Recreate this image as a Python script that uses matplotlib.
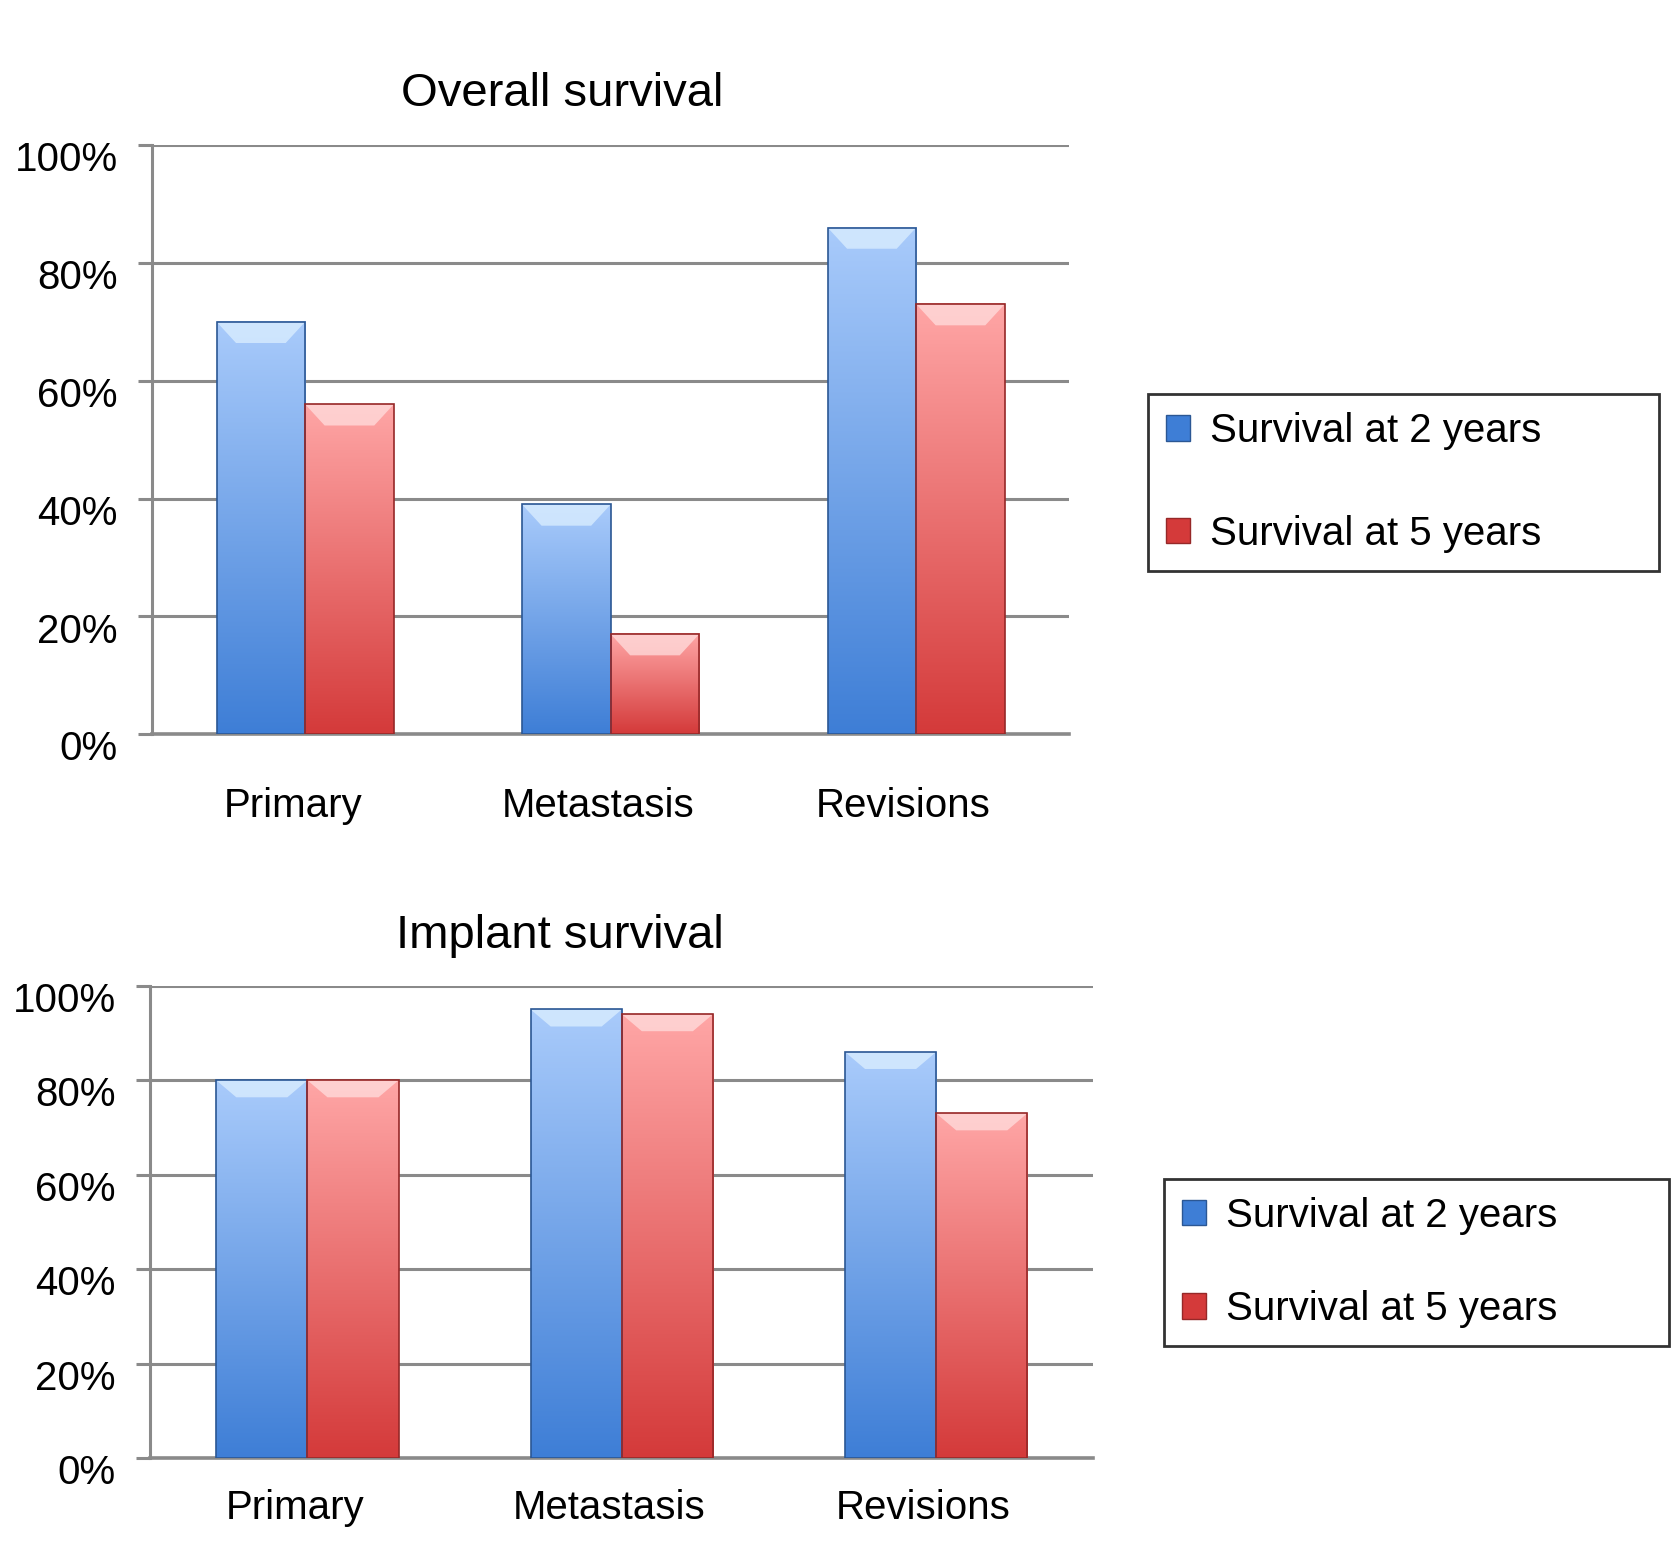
import numpy as np
import matplotlib
matplotlib.use('Agg')
import matplotlib.pyplot as plt
import matplotlib.transforms as mtrans
from matplotlib.colors import LinearSegmentedColormap
from matplotlib.patches import Polygon, Rectangle, Patch

plt.rcParams['font.family'] = ['Liberation Sans', 'DejaVu Sans']

##########################################################################
# data
##########################################################################
categories = ['Primary', 'Metastasis', 'Revisions']
series = ['Survival at 2 years', 'Survival at 5 years']

overall_2y = [70, 39, 86]
overall_5y = [56, 17, 73]

implant_2y = [80, 95, 86]
implant_5y = [80, 94, 73]

yticks = [0, 20, 40, 60, 80, 100]
ytick_labels = ['0%', '20%', '40%', '60%', '80%', '100%']

# styles
grey = '#8a8a8a'
blue = ('#a9cbfb', '#3e7ed6', '#2b5794', '#dcefff')   # top, bottom, edge, bevel
red = ('#ffa6a6', '#d43a3a', '#962828', '#ffdede')
width = 0.29


def gbar(ax, x0, h, col):
    cmap = LinearSegmentedColormap.from_list('g', [col[1], col[0]])
    grad = np.linspace(0, 1, 256).reshape(-1, 1)
    ax.imshow(grad, cmap=cmap, origin='lower', aspect='auto',
              extent=[x0, x0 + width, 0, h], zorder=3)
    d, e = 0.22 * width, 3.6
    ax.add_patch(Polygon([(x0, h), (x0 + width, h), (x0 + width - d, h - e), (x0 + d, h - e)],
                         closed=True, facecolor=col[3], edgecolor='none', alpha=0.75, zorder=4))
    ax.add_patch(Rectangle((x0, 0), width, h, facecolor='none', edgecolor=col[2], lw=1.2, zorder=5))


def panel(rect, v2, v5, title, title_xy, xpad, legend_box, lspace):
    ax = fig.add_axes(rect)
    x = np.arange(len(categories))
    for i in range(len(categories)):
        gbar(ax, x[i] - width, v2[i], blue)
        gbar(ax, x[i], v5[i], red)

    ax.set_xlim(-0.5, 2.5)
    ax.set_ylim(0, 100)
    ax.set_yticks(yticks)
    ax.set_yticklabels(ytick_labels, fontsize=29)
    ax.set_xticks(x)
    ax.set_xticklabels(categories, fontsize=29)
    ax.yaxis.grid(True, color=grey, lw=2.2, zorder=1)
    ax.set_axisbelow(True)
    for s in ['top', 'right', 'bottom']:
        ax.spines[s].set_visible(False)
    ax.spines['left'].set_color(grey)
    ax.spines['left'].set_linewidth(2.2)
    ax.tick_params(axis='y', length=10, width=2.2, color=grey, pad=15)
    ax.tick_params(axis='x', length=0, pad=xpad)
    ax.axhline(0, color=grey, lw=2.6, zorder=2, clip_on=False)

    # nudge labels a bit like the original
    dn = mtrans.ScaledTranslation(0, -8 / 72, fig.dpi_scale_trans)
    for lb in ax.get_yticklabels():
        lb.set_transform(lb.get_transform() + dn)
    lf = mtrans.ScaledTranslation(-9 / 72, 0, fig.dpi_scale_trans)
    for lb in ax.get_xticklabels():
        lb.set_transform(lb.get_transform() + lf)

    fig.text(title_xy[0], title_xy[1], title, fontsize=34, ha='center', va='center')

    handles = [Patch(facecolor=blue[1], edgecolor=blue[2]),
               Patch(facecolor=red[1], edgecolor=red[2])]
    leg = fig.legend(handles, series, loc='upper left', bbox_to_anchor=legend_box,
                     bbox_transform=fig.transFigure, mode='expand', fontsize=29,
                     frameon=True, fancybox=False, handlelength=0.6, handleheight=0.6,
                     handletextpad=0.5, labelspacing=lspace, borderpad=0.45, borderaxespad=0)
    leg.get_frame().set_edgecolor('black')
    leg.get_frame().set_linewidth(2.0)
    return ax


fig = plt.figure(figsize=(16.71, 15.56), dpi=100)

panel([0.0912, 0.5281, 0.5485, 0.3787], overall_2y, overall_5y, 'Overall survival',
      (0.3367, 0.9397), 38, (0.6869, 0.7466, 0.3061, 0.0), 1.6)
panel([0.0899, 0.0630, 0.5644, 0.3034], implant_2y, implant_5y, 'Implant survival',
      (0.3348, 0.3986), 22, (0.6964, 0.2425, 0.3023, 0.0), 1.37)

fig.savefig('out.png', dpi=100)
